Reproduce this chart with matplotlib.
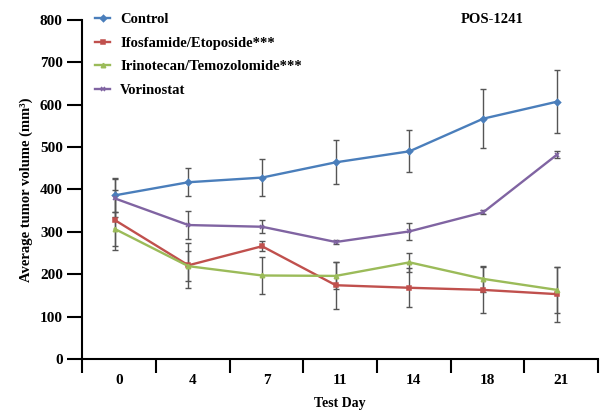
import numpy as np
import matplotlib
matplotlib.use("Agg")
from matplotlib import pyplot as plt

# test days (categorical x axis)
days = ["0", "4", "7", "11", "14", "18", "21"]

# mean tumor volume per group, mm^3
control = [386, 417, 428, 464, 490, 567, 607]
control_err = [40, 33, 44, 52, 50, 70, 74]
ifos = [328, 221, 266, 174, 168, 163, 153]
ifos_err = [70, 53, 12, 55, 46, 55, 65]
irino = [307, 219, 197, 196, 228, 189, 163]
irino_err = [40, 35, 43, 32, 22, 30, 55]
vorin = [379, 316, 312, 276, 301, 346, 482]
vorin_err = [45, 33, 15, 5, 21, 5, 8]

plt.rcParams['font.family'] = ['Liberation Serif', 'DejaVu Serif']
plt.rcParams['font.weight'] = 'bold'

fig = plt.figure(figsize=(6, 4.15), dpi=100)
ax = fig.add_axes([0.137, 0.135, 0.86, 0.817])

x = np.arange(len(days)) - 0.06

series = [
    ("Control", control, control_err, "#4a7ebb", "D"),
    ("Ifosfamide/Etoposide***", ifos, ifos_err, "#c0504d", "s"),
    ("Irinotecan/Temozolomide***", irino, irino_err, "#9bbb59", "^"),
    ("Vorinostat", vorin, vorin_err, "#8064a2", "x"),
]

# error bars first so lines sit on top
for name, vals, err, col, mk in series:
    ax.errorbar(x, vals, yerr=err, fmt="none", ecolor="#555555",
                elinewidth=1.0, capsize=2, capthick=1.0, zorder=1)

for name, vals, err, col, mk in series:
    ax.plot(x, vals, color=col, lw=1.7, marker=mk, ms=3.2,
            markeredgewidth=1.1, label=name, zorder=3)

ax.set_xlim(-0.5, 6.5)
ax.set_ylim(0, 800)

# ticks on the category boundaries, labels at centres
ax.set_xticks(np.arange(-0.5, 7, 1))
ax.set_xticklabels([])
ax.set_xticks(np.arange(len(days)), minor=True)
ax.set_xticklabels(days, minor=True, fontsize=11, fontweight='bold')
ax.tick_params(axis='x', which='major', length=10, width=1.5, direction='out')
ax.tick_params(axis='x', which='minor', length=0, pad=11)

ax.set_yticks(np.arange(0, 801, 100))
ax.tick_params(axis='y', length=11, width=1.5, labelsize=11, pad=3)
for t in ax.get_yticklabels():
    t.set_fontweight('bold')

for s in ['top', 'right']:
    ax.spines[s].set_visible(False)
ax.spines['left'].set_linewidth(1.5)
ax.spines['bottom'].set_linewidth(1.5)
ax.spines['left'].set_bounds(0, 800)

ax.set_xlabel("Test Day", fontsize=10, fontweight='bold', labelpad=7)
ax.set_ylabel("Average tumor volume (mm\u00b3)", fontsize=10.5,
              fontweight='bold', labelpad=5)

ax.legend(loc='upper left', bbox_to_anchor=(0.0, 1.06), frameon=False,
          handlelength=1.0, handletextpad=0.7,
          labelspacing=0.72, prop={'weight': 'bold', 'size': 10.5})

ax.text(0.795, 1.0, "POS-1241", transform=ax.transAxes, ha='center',
        va='center', fontsize=10.5, fontweight='bold')

fig.savefig("out.png", dpi=100)
